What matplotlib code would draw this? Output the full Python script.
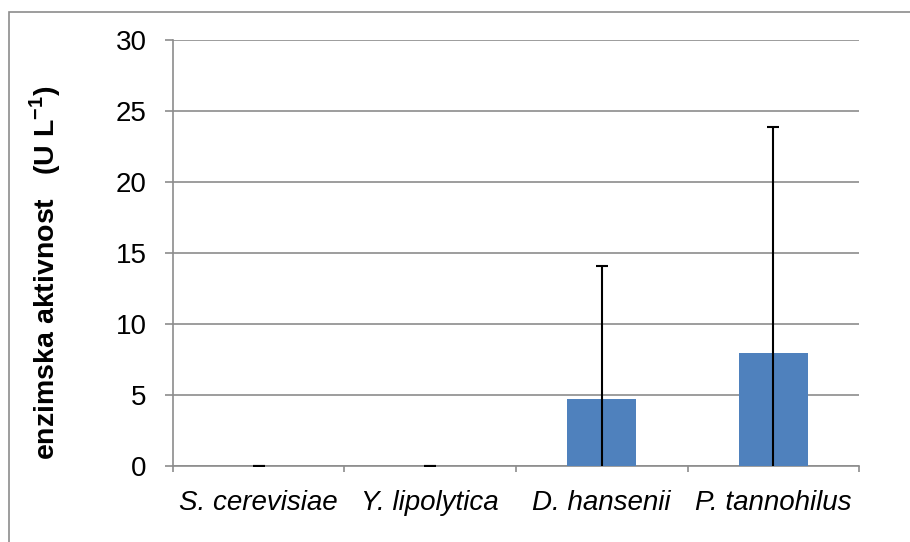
import matplotlib
matplotlib.use("Agg")
import matplotlib.pyplot as plt
from matplotlib.patches import Rectangle
import numpy as np

plt.rcParams['font.family'] = ['Liberation Sans', 'DejaVu Sans']
plt.rcParams['mathtext.fontset'] = 'custom'
plt.rcParams['mathtext.rm'] = 'Liberation Sans'
plt.rcParams['mathtext.bf'] = 'Liberation Sans:bold'

# data
vrste = ['S. cerevisiae', 'Y. lipolytica', 'D. hansenii', 'P. tannohilus']
aktivnost = [0.0, 0.0, 4.7, 8.0]
greska = [0.0, 0.0, 9.4, 15.9]

fig = plt.figure(figsize=(9.1, 5.42), dpi=100)
ax = fig.add_axes([0.190, 0.140, 0.754, 0.786])

# outer chart frame (runs off the right/bottom edge)
fig.patches.append(Rectangle((9 / 910, -0.2), 1.2, 1.2 - 12 / 542,
                             transform=fig.transFigure, fill=False,
                             edgecolor='#8c8c8c', linewidth=1.2))

x = np.arange(len(vrste))
ax.bar(x, aktivnost, width=0.40, color='#4F81BD', zorder=3)
ax.errorbar(x, aktivnost, yerr=greska, fmt='none', ecolor='black',
            elinewidth=1.5, capsize=4, capthick=1.5, zorder=4)

ax.set_xlim(-0.5, 3.5)
ax.set_ylim(0, 30)
ax.set_yticks(range(0, 31, 5))
ax.yaxis.grid(True, color='#8c8c8c', linewidth=1.2, zorder=0)
ax.set_axisbelow(True)

ax.set_xticks(x)
ax.set_xticklabels(vrste, fontsize=20, style='italic')
ax.tick_params(axis='x', length=0, pad=17)
ax.set_xticks(np.arange(-0.5, 4.0, 1.0), minor=True)
ax.tick_params(axis='x', which='minor', length=4.5, color='#8c8c8c', width=1.2)
ax.tick_params(axis='y', labelsize=20, length=6, color='#8c8c8c', width=1.2, pad=13)

for s in ['top', 'right']:
    ax.spines[s].set_visible(False)
for s in ['left', 'bottom']:
    ax.spines[s].set_color('#8c8c8c')
    ax.spines[s].set_linewidth(1.2)

ax.set_ylabel(r'enzimska aktivnost   (U L$^{\mathbf{-1}}$)', fontsize=20.5,
              fontweight='bold')
ax.yaxis.set_label_coords(-0.160, 0.455)

fig.savefig('out.png', dpi=100)
